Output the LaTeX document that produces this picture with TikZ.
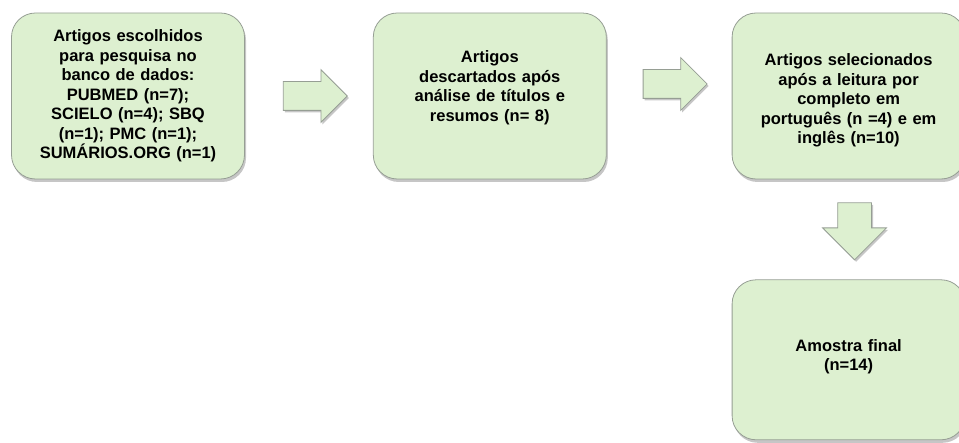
\documentclass[tikz,border=0pt]{standalone}
\usepackage{fontspec}
\setmainfont{Liberation Sans}
\usepackage{tikz}
\usetikzlibrary{shapes.arrows, positioning, shadows}
\definecolor{boxgreen}{RGB}{221, 240, 208}
\definecolor{edgegray}{RGB}{150, 158, 148}

\begin{document}
\begin{tikzpicture}[
    node distance=128pt,
    box/.style={rectangle, draw=edgegray, fill=boxgreen, line width=0.8pt, minimum width=233pt, minimum height=166pt, text width=215pt, align=center, rounded corners=24pt, font=\fontsize{16.5}{19.5}\selectfont\bfseries, drop shadow={shadow xshift=1.5pt, shadow yshift=-3pt, opacity=0.45}},
    blockarrow/.style={single arrow, draw=edgegray, fill=boxgreen, line width=0.8pt, inner sep=0pt, minimum height=64pt, single arrow head extend=12pt, single arrow head indent=0pt, drop shadow={shadow xshift=1.5pt, shadow yshift=-2pt, opacity=0.45}}
]
\useasboundingbox (0,0) rectangle (959pt,443pt);

% Top row
\node[box] (escolhidos) at (128pt,347pt) {Artigos escolhidos\\para pesquisa no\\banco de dados:\\PUBMED (n=7);\\SCIELO (n=4); SBQ\\(n=1); PMC (n=1);\\SUMÁRIOS.ORG (n=1)};
\node[box, right=of escolhidos] (descartados) {Artigos\\descartados após\\análise de títulos e\\resumos (n= 8)\\\mbox{}};
\node[box, right=125pt of descartados] (selecionados) {\rule{0pt}{21pt}Artigos selecionados\\após a leitura por\\completo em\\português (n =4) e em\\inglês (n=10)};

% Bottom
\node[box, below=100pt of selecionados, minimum height=160pt] (amostra) {Amostra final\\(n=14)\\[-9.5pt]\mbox{}};

% Block arrows
\node[blockarrow, right=38pt of escolhidos, anchor=west] (seta1) {\rule{0pt}{28pt}};
\node[blockarrow, right=36pt of descartados, anchor=west, yshift=12pt] (seta2) {\rule{0pt}{28pt}};
\node[blockarrow, shape border rotate=270, minimum height=57pt, single arrow head extend=15pt, below=23pt of selecionados, anchor=north, xshift=6pt] (seta3) {\rule{33pt}{0pt}};

\end{tikzpicture}
\end{document}
